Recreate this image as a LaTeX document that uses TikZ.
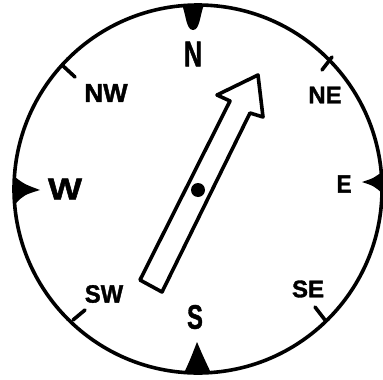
\documentclass[tikz,border=0pt]{standalone}
\usepackage{fontspec}
\setmainfont{Liberation Sans}
\newfontface\labfont[FakeBold=1.5]{Liberation Sans Bold}
\begin{document}
\begin{tikzpicture}[x=1pt,y=-1pt,
  ink/.style={line width=3.6pt, line cap=round, line join=round},
  lab/.style={inner sep=0pt, font=\labfont}]
\useasboundingbox (0,0) rectangle (383,380);
\coordinate (c) at (198,189);
% rim
\draw[ink] (c) circle[radius=184];
% cardinal markers
\fill (182,5) .. controls (186,14) and (186,30) .. (193,30) .. controls (200,30) and (200,14) .. (204,5) -- cycle;
\fill (15,177) .. controls (24,184) .. (40,190) .. controls (24,195) .. (15,204) -- cycle;
\fill (383,171) .. controls (374,178) .. (362,182) .. controls (374,186) .. (383,194) -- cycle;
\fill (184,373) .. controls (190,360) .. (197,342) .. controls (203,356) .. (211,373) -- cycle;
% intercardinal ticks
\draw[ink] (62,65) -- (75,77);
\draw[ink] (332,57) -- (322,70);
\draw[ink] (73,320) -- (85,310);
\draw[ink] (325,320) -- (315,307);
% labels
\node[lab] (n) at (193,54) {\scalebox{0.7}[1]{\fontsize{36}{36}\labfont N}};
\node[lab] (nw) at (106,93) {\scalebox{1.0}[1]{\fontsize{26}{26}\labfont NW}};
\node[lab] (ne) at (325,95) {\scalebox{1.0}[1]{\fontsize{24}{24}\labfont NE}};
\node[lab] (w) at (65,189) {\scalebox{1.2}[1]{\fontsize{30}{30}\labfont W}};
\node[lab] (e) at (344,184) {\scalebox{0.9}[1]{\fontsize{25}{25}\labfont E}};
\node[lab] (sw) at (104,294) {\scalebox{0.95}[1]{\fontsize{25}{25}\labfont SW}};
\node[lab] (se) at (308,289) {\scalebox{1.0}[1]{\fontsize{24}{24}\labfont SE}};
\node[lab] (s) at (195,317) {\scalebox{0.7}[1]{\fontsize{34}{34}\labfont S}};
% needle
\draw[ink] (140,280) -- (230,101) -- (217,95) -- (258,75) -- (263,117) -- (250,113) -- (162,292) -- cycle;
\fill (198,190) circle[radius=7];
\end{tikzpicture}
\end{document}
